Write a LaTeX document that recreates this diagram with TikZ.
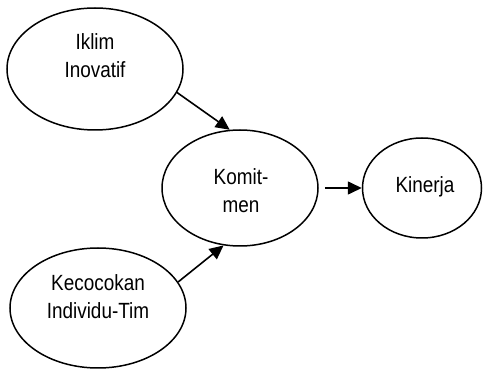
\documentclass[tikz,border=0pt]{standalone}
\usepackage{fontspec}
\setmainfont[FakeStretch=0.86]{Liberation Sans}
\usetikzlibrary{shapes.geometric,arrows.meta}
\begin{document}
\begin{tikzpicture}[x=1pt,y=1pt,
  oval/.style={draw=black,line width=1.5pt,ellipse,inner sep=0pt},
  lbl/.style={align=center,font=\fontsize{22}{28}\selectfont,inner sep=0pt},
  arr/.style={line width=1.6pt,-{Triangle[length=14pt,width=13pt]}}]
\useasboundingbox (0,0) rectangle (483,370);
\node[oval,minimum width=176pt,minimum height=122pt] (iklim) at (95,301) {};
\node[oval,minimum width=156pt,minimum height=116pt] (komit) at (240,182) {};
\node[oval,minimum width=119pt,minimum height=100pt] (kinerja) at (422,182) {};
\node[oval,minimum width=176pt,minimum height=120pt] (kecocokan) at (98,62) {};
\node[lbl] (tiklim) at (95,314) {Iklim\\Inovatif};
\node[lbl] (tkomit) at (241,179) {Komit-\\men};
\node[lbl] (tkinerja) at (425,183) {Kinerja};
\node[lbl] (tkec) at (98,73) {Kecocokan\\Individu-Tim};
\draw[arr] (iklim.-16) -- (komit.100);
\draw[arr] (kecocokan.18) -- (komit.-106);
\draw[arr,shorten <=6pt] (komit.east) -- (kinerja.west);
\end{tikzpicture}
\end{document}
